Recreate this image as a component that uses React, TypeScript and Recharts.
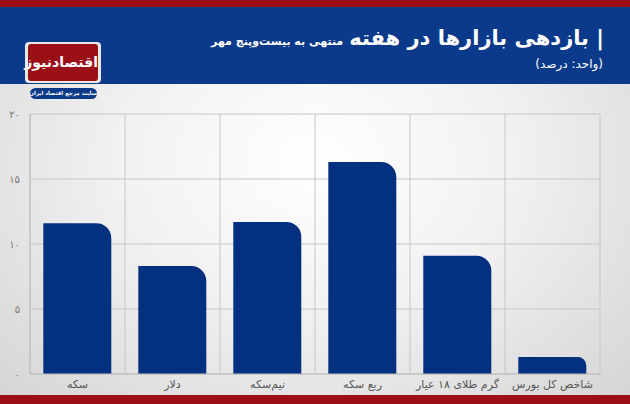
import React from 'react';
import { BarChart, Bar, XAxis, YAxis, CartesianGrid } from 'recharts';

const categories = ['سکه', 'دلار', 'نیم‌سکه', 'ربع سکه', 'گرم طلای ۱۸ عیار', 'شاخص کل بورس'];
const returns = [11.6, 8.3, 11.7, 16.3, 9.1, 1.3];
const yTicks = [0, 5, 10, 15, 20];

const data = categories.map((name, i) => ({ name, value: returns[i] }));

const toFa = (n: number) => String(n).replace(/\d/g, (d) => '۰۱۲۳۴۵۶۷۸۹'[Number(d)]);

const FONT = '"DejaVu Sans", "Noto Sans", sans-serif';

export default function App() {
  return (
    <div
      style={{
        position: 'absolute',
        left: 0,
        top: 0,
        width: 630,
        height: 404,
        overflow: 'hidden',
        background: 'radial-gradient(ellipse at 50% 40%, #ffffff 0%, #f1f1f1 45%, #d4d4d4 100%)',
        fontFamily: FONT,
      }}
    >
      <div style={{ position: 'absolute', left: 0, top: 0, width: 630, height: 7, background: '#9c0f16' }} />
      <div style={{ position: 'absolute', left: 0, top: 7, width: 630, height: 77, background: '#0c3a8a' }} />
      <div style={{ position: 'absolute', left: 0, top: 395, width: 630, height: 9, background: '#9c0f16' }} />

      {/* Title */}
      <div
        dir="rtl"
        style={{
          position: 'absolute',
          right: 26,
          top: 24,
          color: '#fff',
          whiteSpace: 'nowrap',
          lineHeight: '28px',
        }}
      >
        <span style={{ fontSize: 21, fontWeight: 'bold', display: 'inline-block' }}>| بازدهی بازارها در هفته</span>
        <span style={{ fontSize: 11, fontWeight: 'bold', marginRight: 6, display: 'inline-block' }}>
          منتهی به بیست‌وپنج مهر
        </span>
      </div>
      <div
        dir="rtl"
        style={{
          position: 'absolute',
          right: 27,
          top: 57,
          color: '#fff',
          fontSize: 12,
          whiteSpace: 'nowrap',
        }}
      >
        (واحد: درصد)
      </div>

      {/* Logo */}
      <div
        style={{
          position: 'absolute',
          left: 25,
          top: 42,
          width: 76,
          height: 41,
          background: '#e8e8e8',
          borderRadius: 4,
        }}
      />
      <div
        dir="rtl"
        style={{
          position: 'absolute',
          left: 28,
          top: 44,
          width: 70,
          height: 37,
          background: '#9b1016',
          borderRadius: 3,
          color: '#fff',
          fontSize: 14,
          fontWeight: 'bold',
          textAlign: 'center',
          lineHeight: '37px',
          whiteSpace: 'nowrap',
          letterSpacing: -0.5,
        }}
      >
        اقتصادنیوز
      </div>
      <div
        dir="rtl"
        style={{
          position: 'absolute',
          left: 30,
          top: 88,
          width: 67,
          height: 11,
          background: '#0c3a8a',
          borderRadius: 6,
          color: '#fff',
          fontSize: 5.5,
          fontWeight: 'bold',
          textAlign: 'center',
          lineHeight: '11px',
          whiteSpace: 'nowrap',
        }}
      >
        سایت مرجع اقتصاد ایران
      </div>

      <div style={{ position: 'absolute', left: 0, top: 0 }}>
        <BarChart
          width={630}
          height={404}
          data={data}
          margin={{ top: 114, right: 30, bottom: 0, left: 0 }}
          barCategoryGap="14%"
        >
          <CartesianGrid
            stroke="#c6c6c6"
            strokeWidth={1}
            horizontalValues={yTicks}
            verticalCoordinatesGenerator={({ offset }: any) =>
              categories.map((_, i) => offset.left + (i * offset.width) / categories.length).concat([offset.left + offset.width])
            }
          />
          <XAxis
            dataKey="name"
            height={30}
            tickLine={false}
            axisLine={{ stroke: '#bdbdbd' }}
            tick={{ fill: '#555', fontSize: 11, fontFamily: FONT }}
            tickMargin={0}
            interval={0}
          />
          <YAxis
            width={30}
            domain={[0, 20]}
            ticks={yTicks}
            tickFormatter={toFa}
            tickLine={false}
            axisLine={{ stroke: '#bdbdbd' }}
            tick={{ fill: '#777', fontSize: 10, fontFamily: FONT }}
            tickMargin={4}
          />
          <Bar dataKey="value" fill="#04317f" radius={[0, 15, 0, 0]} isAnimationActive={false} />
        </BarChart>
      </div>
    </div>
  );
}
